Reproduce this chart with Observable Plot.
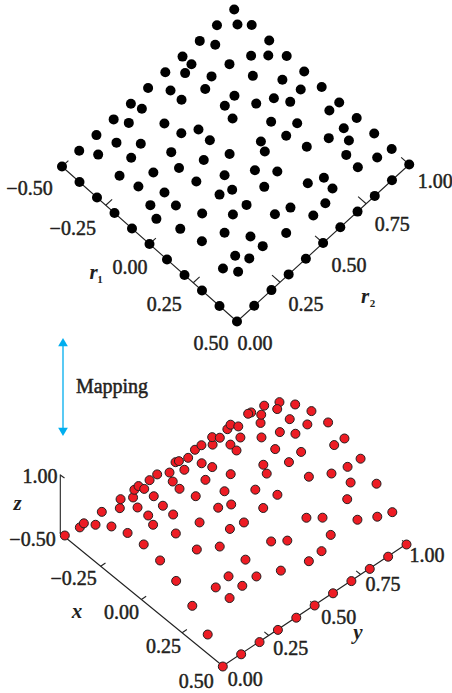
<!DOCTYPE html>
<html><head><meta charset="utf-8">
<style>html,body{margin:0;padding:0;background:#fff}svg{display:block}</style>
<script src="https://cdn.jsdelivr.net/npm/d3@7"></script>
<script src="https://cdn.jsdelivr.net/npm/@observablehq/plot@0.6"></script>
</head><body><script>
// Black points: parameter space (r1, r2)
const blackR1 = [
-.5,-.5,-.5,-.5,-.5,-.5,-.5,-.5,-.5,-.5,-.5,
-.4,-.3,-.2,-.1,0,.1,.2,.3,.4,.5,
.5,.5,.5,.5,.5,.5,.5,.5,.5,.5,
-.4,-.3,-.2,-.1,0,.1,.2,.3,.4,
-.443,-.443,-.450,-.340,-.440,-.353,-.427,-.331,-.366,-.225,-.452,-.221,-.158,-.445,-.340,-.222,-.260,-.155,-.418,-.344,-.433,-.229,-.054,-.327,-.110,-.156,-.216,
-.304,-.255,-.235,-.137,-.053,-.103,-.044,-.137,.097,-.036,.044,.195,.052,.183,.249,-.003,.147,.040,.287,.385,.360,.071,.140,
-.304,-.001,.295,-.063,.266,-.215,.151,.354,.067,-.120,.046,.380,-.121,-.046,.157,.293,.056,.148,.269,.384,-.060,.041,.182,.361,.269,.143,.335,.286,.335,.291,.345];
const blackR2 = [
0,.1,.2,.3,.4,.5,.6,.7,.8,.9,1,
1,1,1,1,1,1,1,1,1,1,
0,.1,.2,.3,.4,.5,.6,.7,.8,.9,
0,0,0,0,0,0,0,0,0,
.961,.832,.701,.810,.654,.719,.556,.660,.558,.722,.415,.662,.643,.332,.432,.510,.449,.508,.233,.299,.142,.359,.520,.226,.427,.330,.242,
.899,.949,.839,.911,.932,.827,.862,.759,.946,.743,.813,.930,.741,.855,.905,.650,.764,.629,.851,.931,.844,.540,.600,
.135,.437,.713,.336,.649,.154,.513,.703,.412,.209,.360,.635,.128,.200,.404,.521,.249,.334,.455,.561,.101,.137,.251,.427,.313,.159,.317,.207,.239,.131,.164];

// Red points: position read against the x and y axes of the lower panel
const redX = [
-.5,-.492,-.459,-.407,-.334,-.240,-.126,.006,.157,.322,.5,
.5,.5,.5,.5,.5,.5,.5,.5,.5,.5,
-.498,-.496,-.461,-.497,-.469,-.498,-.502,-.474,-.414,-.496,-.416,-.350,-.297,-.350,-.284,-.499,-.472,-.425,-.375,-.499,-.494,-.482,-.442,-.497,-.498,-.469,-.502,-.478,-.421,-.375,-.340,-.298,-.238,-.186,-.163,-.176,-.196,-.051,-.063,
-.493,-.503,-.474,-.421,-.419,-.377,-.293,-.426,-.459,-.497,-.500,-.489,-.461,-.438,-.407,-.333,-.360,-.238,-.288,-.333,-.282,-.362,-.274,-.189,-.124,-.125,-.180,-.241,-.194,-.062,-.012,.005,.007,.080,.158,-.158,-.074,.141,-.058,.323,.300,.105,.150,.257,.246,.106,.148,.289,.296,.111,.257,.134,.213,.213,.145,.229,-.069,-.017];
const redY = [
0,.075,.132,.174,.199,.206,.197,.171,.129,.071,0,
.1,.2,.3,.4,.5,.6,.7,.8,.9,1,
.102,.198,.266,.301,.345,.377,.403,.410,.322,.458,.412,.325,.306,.405,.404,.502,.546,.523,.517,.602,.616,.656,.601,.706,.742,.778,.804,.825,.677,.695,.628,.539,.644,.565,.616,.455,.343,.589,.523,
.879,.905,.922,.888,.832,.829,.725,1.002,1.034,1.012,.998,1.076,1.135,1.103,1.174,1.199,1.104,1.208,1.138,1.027,1.068,.952,.951,1.019,1.199,1.144,.945,.858,.836,.952,1.032,1.105,1.174,1.057,1.131,.743,.791,.986,.700,1.075,1.013,.795,.844,.942,.806,.602,.654,.719,.644,.458,.525,.346,.430,.353,.267,.270,.348,.428];

// Tick values and labels
const r1Ticks = [-.5,-.25,0,.25,.5];
const r1Labels = ["−0.50","−0.25","0.00","0.25","0.50"];
const r2Ticks = [0,.25,.5,.75,1];
const r2Labels = ["0.00","0.25","0.50","0.75","1.00"];
const xLabels = ["−0.50","−0.25","0.00","0.25","0.50"];
const yLabels = ["0.00","0.25","0.50","0.75","1.00"];
const zLabel = "1.00";

// Projections of each panel on the shared canvas scales
const topU = (r1,r2)=>2.365-1.75*(.5-r1)+1.722*r2;
const topV = (r1,r2)=>3.21-1.55*(.5-r1)-1.57*r2;
const botU = (x,y)=>2.223-1.58*(.5-x)+1.837*y;
const botV = (x,y)=>6.66-1.31*(.5-x)-1.22*y;
// the drawn x axis of the lower panel starts a little outside the first point
const axU = (x,y)=>2.223-1.628*(.5-x)+1.837*y;
const axV = (x,y)=>6.655-1.33*(.5-x)-1.22*y;

const black = blackR1.map((r1,i)=>({u:topU(r1,blackR2[i]),v:topV(r1,blackR2[i])}));
const red = redX.map((x,i)=>({u:botU(x,redY[i]),v:botV(x,redY[i])}));

const axisInk="#222", textInk="#231f20";
const serif="'Liberation Serif','Times New Roman',serif";
const labelOpts={fontFamily:serif,fontSize:20,fill:textInk,stroke:textInk,strokeWidth:.5,textAnchor:"middle",lineAnchor:"middle"};
const labelMark=(t,u,v)=>Plot.text([t],{...labelOpts,x:()=>u,y:()=>v,text:d=>d});
const varMark=(t,u,v,size=21)=>Plot.text([t],{...labelOpts,fontStyle:"italic",fontWeight:"bold",strokeWidth:0,fontSize:size,x:()=>u,y:()=>v,text:d=>d});
const subMark=(t,u,v)=>Plot.text([t],{...labelOpts,fontWeight:"bold",strokeWidth:0,fontSize:11,x:()=>u,y:()=>v,text:d=>d});

// label centres relative to the tick position on the axis
const r1Nudge=[[-.325,.225],[-.33,.23],[-.195,.232],[-.29,.22],[-.26,.223]];
const r2Nudge=[[.18,.223],[.26,.22],[.26,.23],[.26,.205],[.26,.175]];
const xNudge=[[-.275,.065],[-.27,.12],[-.2,.13],[-.185,.14],[-.265,.16]];
const yNudge=[[.225,.133],[.22,.13],[.24,.125],[.225,.10],[.205,.115]];

const linkOpts={stroke:axisInk,strokeWidth:1.1};
const marks=[
  // top axes
  Plot.line([[-.5,0],[.5,0],[.5,1]],{x:d=>topU(d[0],d[1]),y:d=>topV(d[0],d[1]),...linkOpts,curve:"linear"}),
  Plot.link(r1Ticks.slice(0,4),{x1:d=>topU(d,0),y1:d=>topV(d,0),x2:d=>topU(d,.037),y2:d=>topV(d,.037),...linkOpts}),
  Plot.link(r2Ticks.slice(1),{x1:d=>topU(.5,d),y1:d=>topV(.5,d),x2:d=>topU(.454,d),y2:d=>topV(.454,d),...linkOpts}),
  Plot.dot(black,{x:"u",y:"v",r:5,fill:"#000",stroke:"none"}),
  ...r1Labels.map((t,i)=>labelMark(t,topU(r1Ticks[i],0)+r1Nudge[i][0],topV(r1Ticks[i],0)+r1Nudge[i][1])),
  ...r2Labels.map((t,i)=>labelMark(t,topU(.5,r2Ticks[i])+r2Nudge[i][0],topV(.5,r2Ticks[i])+r2Nudge[i][1])),
  varMark("r",.93,2.72),subMark("1",.995,2.79),
  varMark("r",3.645,2.96),subMark("2",3.72,3.03),
  // mapping arrow
  Plot.ruleX([.625],{y1:3.42,y2:4.30,stroke:"#00aeef",strokeWidth:1.3}),
  Plot.dot([3.43],{x:()=>.625,y:d=>d,symbol:"triangle",r:3.6,fill:"#00aeef",stroke:"none"}),
  Plot.dot([4.30],{x:()=>.625,y:d=>d,symbol:"triangle",r:3.6,fill:"#00aeef",stroke:"none",rotate:180}),
  labelMark("Mapping",1.115,3.865),
  // bottom axes
  Plot.line([[-.5,0],[.5,0],[.5,1]],{x:d=>axU(d[0],d[1]),y:d=>axV(d[0],d[1]),...linkOpts}),
  Plot.ruleX([.598],{y1:4.745,y2:5.33,...linkOpts}),
  Plot.link([0],{x1:()=>.598,y1:()=>4.745,x2:()=>.64,y2:()=>4.775,...linkOpts}),
  Plot.link(r1Ticks.slice(1,4),{x1:d=>axU(d,0),y1:d=>axV(d,0),x2:d=>axU(d,.026),y2:d=>axV(d,.026),...linkOpts}),
  Plot.link(r2Ticks.slice(1),{x1:d=>axU(.5,d),y1:d=>axV(.5,d),x2:d=>axU(.473,d),y2:d=>axV(.473,d),...linkOpts}),
  Plot.dot(red,{x:"u",y:"v",r:4.5,fill:"#ed1c24",stroke:"#231f20",strokeWidth:1}),
  ...xLabels.map((t,i)=>labelMark(t,axU(r1Ticks[i],0)+xNudge[i][0],axV(r1Ticks[i],0)+xNudge[i][1])),
  ...yLabels.map((t,i)=>labelMark(t,axU(.5,r2Ticks[i])+yNudge[i][0],axV(.5,r2Ticks[i])+yNudge[i][1])),
  labelMark(zLabel,.395,4.757),
  varMark("z",.17,5.03),varMark("x",.765,6.11),varMark("y",3.575,6.317)
];

const chart=Plot.plot({
  width:452,height:693,margin:0,
  x:{axis:null,domain:[0,4.52],range:[0,452]},
  y:{axis:null,domain:[0,6.93],range:[0,693]},
  marks
});
document.body.appendChild(chart);
</script></body></html>
